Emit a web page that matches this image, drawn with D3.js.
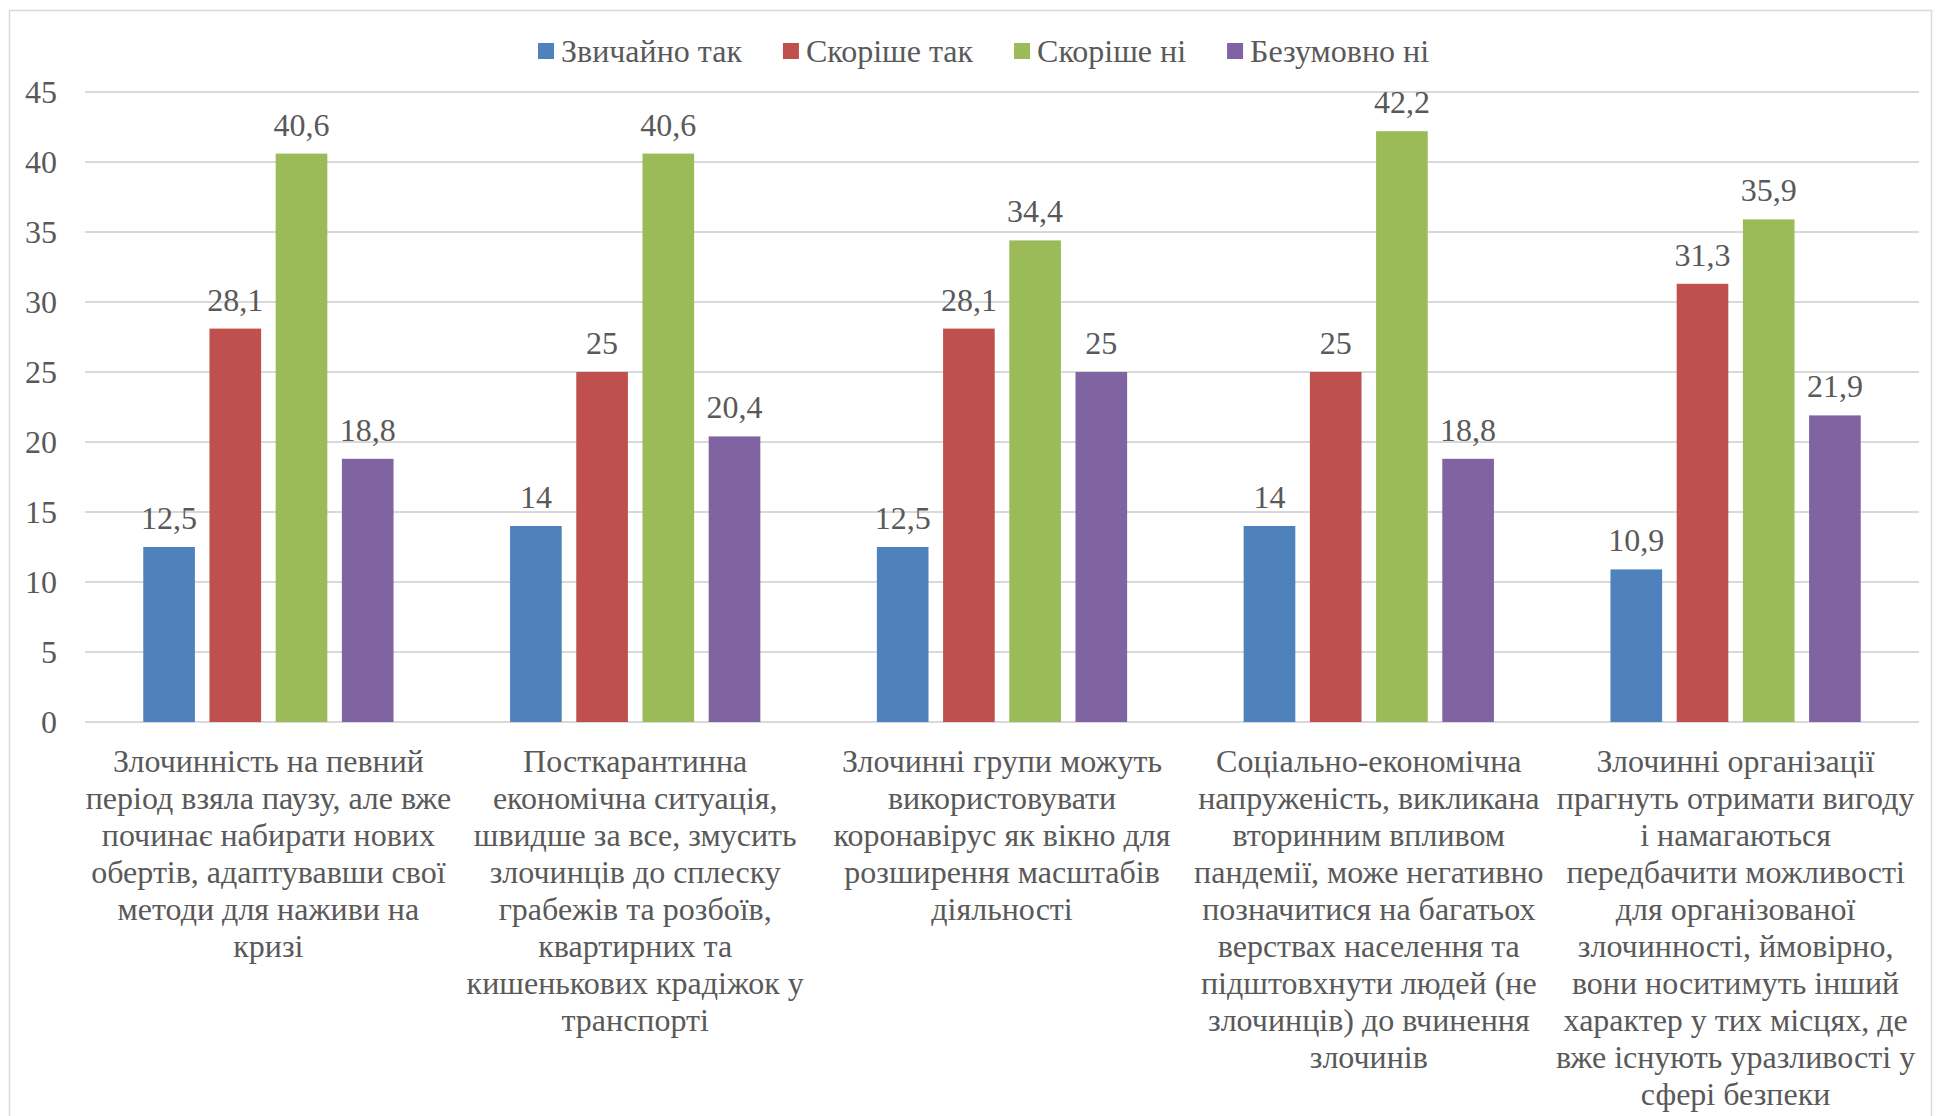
<!DOCTYPE html>
<html lang="uk">
<head>
<meta charset="UTF-8">
<title>Bar chart</title>
<script src="https://d3js.org/d3.v7.min.js"></script>
</head>
<body style="margin:0;background:#fff">
<svg width="1939" height="1116"></svg>
<script>
const categories = [
  ["Злочинність на певний", "період взяла паузу, але вже", "починає набирати нових", "обертів, адаптувавши свої", "методи для наживи на", "кризі"],
  ["Посткарантинна", "економічна ситуація,", "швидше за все, змусить", "злочинців до сплеску", "грабежів та розбоїв,", "квартирних та", "кишенькових крадіжок у", "транспорті"],
  ["Злочинні групи можуть", "використовувати", "коронавірус як вікно для", "розширення масштабів", "діяльності"],
  ["Соціально-економічна", "напруженість, викликана", "вторинним впливом", "пандемії, може негативно", "позначитися на багатьох", "верствах населення та", "підштовхнути людей (не", "злочинців) до вчинення", "злочинів"],
  ["Злочинні організації", "прагнуть отримати вигоду", "і намагаються", "передбачити можливості", "для організованої", "злочинності, ймовірно,", "вони носитимуть інший", "характер у тих місцях, де", "вже існують уразливості у", "сфері безпеки"]
];
const seriesNames = ["Звичайно так", "Скоріше так", "Скоріше ні", "Безумовно ні"];
const colors = ["#4F81BD", "#C0504D", "#9BBB59", "#8064A2"];
const zvychaynoTak = [12.5, 14, 12.5, 14, 10.9];
const skorisheTak = [28.1, 25, 28.1, 25, 31.3];
const skorisheNi = [40.6, 40.6, 34.4, 42.2, 35.9];
const bezumovnoNi = [18.8, 20.4, 25, 18.8, 21.9];
const yTicks = [0, 5, 10, 15, 20, 25, 30, 35, 40, 45];

const series = [zvychaynoTak, skorisheTak, skorisheNi, bezumovnoNi];
const FONT = '"Liberation Serif", "Times New Roman", serif';
const TXT = "#595959";

const svg = d3.select("svg");
const plotL = 85, plotR = 1919, plotT = 92, plotB = 722;

// chart border
svg.append("rect")
  .attr("x", 9.5).attr("y", 10.5)
  .attr("width", 1922).attr("height", 1120)
  .attr("fill", "none").attr("stroke", "#d9d9d9").attr("stroke-width", 1.5);

const x = d3.scaleBand().domain(d3.range(categories.length)).range([plotL, plotR]);
const xs = d3.scaleBand().domain(d3.range(series.length))
  .range([0, x.bandwidth()]).paddingInner(0.22).paddingOuter(0.88);
const y = d3.scaleLinear().domain([0, 45]).range([plotB, plotT]);

// gridlines
svg.append("g").selectAll("line").data(yTicks).join("line")
  .attr("x1", plotL).attr("x2", plotR)
  .attr("y1", d => y(d)).attr("y2", d => y(d))
  .attr("stroke", "#d9d9d9").attr("stroke-width", 2);

// y axis
const yAxis = d3.axisLeft(y).tickValues(yTicks).tickSize(0).tickPadding(28);
const yg = svg.append("g").attr("transform", `translate(${plotL},0)`).call(yAxis);
yg.select(".domain").remove();
yg.selectAll("text").attr("font-size", 32).style("font-family", FONT).attr("fill", TXT).attr("dy", "0.34em");

// bars
const fmt = v => String(v).replace(".", ",");
series.forEach((vals, si) => {
  const g = svg.append("g");
  g.selectAll("rect").data(vals).join("rect")
    .attr("x", (d, i) => x(i) + xs(si))
    .attr("y", d => y(d))
    .attr("width", xs.bandwidth())
    .attr("height", d => y(0) - y(d))
    .attr("fill", colors[si]);
  g.selectAll("text").data(vals).join("text")
    .attr("x", (d, i) => x(i) + xs(si) + xs.bandwidth() / 2)
    .attr("y", d => y(d) - 18)
    .attr("text-anchor", "middle")
    .attr("font-size", 32)
    .style("font-family", FONT)
    .attr("fill", TXT)
    .text(fmt);
});

// category labels
categories.forEach((lines, i) => {
  const t = svg.append("text")
    .attr("text-anchor", "middle")
    .attr("font-size", 32)
    .style("font-family", FONT)
    .attr("fill", TXT);
  lines.forEach((ln, k) => {
    t.append("tspan")
      .attr("x", x(i) + x.bandwidth() / 2)
      .attr("y", 772 + k * 37)
      .text(ln);
  });
});

// legend
const legend = svg.append("g");
let cx = 0;
seriesNames.forEach((name, i) => {
  const it = legend.append("g");
  it.append("rect").attr("x", 0).attr("y", -8).attr("width", 16).attr("height", 16).attr("fill", colors[i]);
  const tx = it.append("text").attr("x", 23).attr("y", 11)
    .attr("font-size", 32).style("font-family", FONT).attr("fill", TXT).text(name);
  const w = 23 + tx.node().getComputedTextLength();
  it.attr("transform", `translate(${cx},0)`);
  cx += w + 41;
});
const totalW = cx - 41;
legend.attr("transform", `translate(${538},51)`);
</script>
</body>
</html>
